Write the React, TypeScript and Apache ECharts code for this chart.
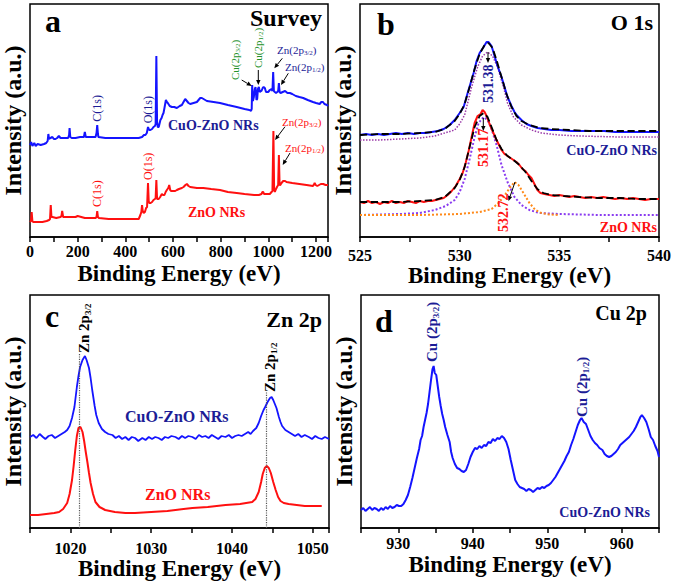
import { useEffect, useRef } from "react";
import * as echarts from "echarts";

const FONT = "'Liberation Serif', 'Times New Roman', serif";
const BLUE = "#1414ff";
const RED = "#ff1010";
const NAVY = "#1c1c96";
const GREEN = "#23912a";

// ---------- Panel a: survey ----------
const surveyTicks = [0, 200, 400, 600, 800, 1000, 1200];
const surveyCuOZnO: [number, number][] = [
  [0, 92], [5, 95], [10, 91], [18, 94], [24, 91], [32, 93], [45, 92], [59, 93], [68, 94], [74, 96], [77, 103], [80, 98],
  [86, 99], [94, 100], [100, 98], [107, 98], [114, 99], [121, 101], [128, 99], [135, 99], [150, 99], [160, 99], [164, 102],
  [166, 109], [169, 100], [175, 99], [191, 99], [210, 100], [226, 100], [230, 105], [234, 100], [255, 100], [275, 100],
  [279, 104], [282, 112], [285, 103], [287, 100], [316, 99], [350, 99], [400, 99], [440, 99], [456, 99], [470, 100],
  [478, 102], [484, 102], [490, 104], [495, 110], [500, 107], [505, 107], [512, 108], [518, 110], [524, 111], [527, 113],
  [530, 181], [533, 115], [536, 110], [540, 110], [547, 117], [552, 119], [556, 122], [560, 124], [564, 129], [570, 137],
  [574, 135], [578, 134], [586, 131], [595, 130], [605, 130], [616, 129], [628, 131], [637, 132], [644, 135], [651, 138],
  [658, 136], [665, 134], [672, 133], [686, 134], [700, 135], [714, 139], [721, 139], [728, 138], [742, 136], [770, 135],
  [797, 134], [830, 132], [867, 130], [900, 128], [920, 127], [927, 126], [930, 128], [932, 152], [935, 136], [939, 140],
  [943, 148], [946, 150], [948, 144], [950, 137], [953, 138], [956, 148], [960, 150], [964, 145], [968, 146], [971, 146],
  [976, 149], [980, 150], [985, 149], [990, 145], [999, 145], [1006, 147], [1013, 148], [1017, 146], [1020, 165],
  [1023, 146], [1027, 145], [1032, 144], [1037, 145], [1041, 146], [1044, 154], [1047, 145], [1051, 144], [1060, 145],
  [1070, 146], [1080, 144], [1090, 144], [1100, 143], [1115, 141], [1130, 140], [1146, 139], [1165, 137], [1187, 135],
  [1200, 134], [1215, 133], [1222, 135], [1229, 135], [1235, 133], [1246, 132], [1250, 131],
];
const surveyZnO: [number, number][] = [
  [0, 15], [4, 16], [7, 25], [10, 16], [13, 15], [30, 15], [52, 15], [70, 16], [80, 17], [84, 18], [87, 32], [90, 20],
  [94, 20], [110, 19], [128, 20], [132, 21], [135, 26], [139, 20], [150, 20], [175, 20], [191, 20], [200, 21], [230, 19],
  [275, 19], [279, 20], [282, 26], [285, 20], [289, 19], [330, 18], [372, 18], [420, 18], [456, 18], [463, 22], [467, 25],
  [470, 32], [473, 26], [477, 24], [482, 25], [487, 29], [491, 30], [495, 54], [498, 36], [500, 34], [506, 34], [512, 35],
  [518, 37], [524, 38], [527, 39], [530, 57], [533, 38], [540, 38], [546, 40], [553, 43], [558, 42], [564, 42], [569, 45],
  [574, 47], [580, 49], [584, 52], [588, 47], [592, 46], [600, 46], [609, 46], [616, 47], [625, 48], [637, 49], [644, 50],
  [652, 52], [658, 53], [665, 51], [672, 50], [700, 49], [727, 49], [760, 48], [797, 47], [830, 45], [867, 44], [900, 43],
  [940, 42], [960, 42], [971, 43], [975, 45], [978, 45], [982, 43], [995, 43], [1006, 43], [1013, 45], [1017, 46],
  [1021, 106], [1024, 48], [1027, 45], [1032, 48], [1036, 50], [1041, 52], [1044, 82], [1047, 52], [1050, 52], [1055, 54],
  [1062, 56], [1070, 56], [1076, 55], [1100, 54], [1130, 53], [1160, 52], [1187, 51], [1192, 53], [1194, 54], [1198, 52],
  [1205, 51], [1220, 53], [1230, 53], [1240, 52], [1250, 52],
];

// ---------- Panel b: O 1s ----------
const o1sTicks = [525, 530, 535, 540];
const o1sCuOZnO: [number, number][] = [
  [525.0, 102], [525.3, 103], [525.6, 102], [525.9, 103], [526.2, 102], [526.5, 103], [526.8, 104], [527.1, 103],
  [527.4, 104], [527.7, 103], [528.0, 104], [528.3, 104], [528.6, 105], [528.9, 106], [529.2, 108], [529.5, 112],
  [529.75, 117], [530.0, 124], [530.2, 130], [530.4, 144], [530.55, 154], [530.7, 164], [530.85, 176], [531.0, 184],
  [531.2, 190], [531.35, 195], [531.45, 195], [531.6, 191], [531.75, 181], [531.9, 171], [532.1, 160], [532.25, 150],
  [532.4, 140], [532.6, 131], [532.75, 125], [532.9, 121], [533.1, 117], [533.35, 113], [533.6, 111], [533.9, 109],
  [534.25, 108], [534.6, 107], [535.0, 107], [535.6, 106], [536.2, 106], [536.8, 106], [537.25, 106], [537.8, 105],
  [538.4, 105], [538.9, 105], [539.4, 105], [540.0, 105],
];
const o1sCuOZnOFit: [number, number][] = [
  [525, 102], [526, 103], [527, 103], [528, 104], [528.75, 105], [529.25, 108], [529.75, 116], [530.0, 123],
  [530.25, 133], [530.5, 150], [530.75, 168], [531.0, 183], [531.25, 192], [531.45, 194], [531.65, 189], [531.85, 177],
  [532.1, 160], [532.35, 143], [532.6, 130], [532.85, 121], [533.1, 116], [533.5, 112], [534, 109], [534.6, 108],
  [535.5, 107], [536.5, 106], [538, 106], [539, 106], [540, 106],
];
const o1sCuOZnOPeak: [number, number][] = [
  [525, 97], [526, 97], [527, 98], [528, 99], [528.75, 101], [529.25, 104], [529.75, 107], [530.0, 113], [530.25, 122],
  [530.4, 134], [530.6, 150], [530.9, 170], [531.15, 181], [531.4, 185], [531.65, 181], [531.9, 170], [532.2, 150],
  [532.4, 134], [532.7, 120], [533.1, 112], [533.6, 107], [534.1, 104], [535, 102], [536, 101], [538, 100], [540, 100],
];
const o1sZnO: [number, number][] = [
  [525.0, 35], [525.2, 34], [525.4, 36], [525.6, 34], [525.8, 35], [526.0, 33], [526.2, 35], [526.4, 34], [526.6, 36],
  [526.8, 34], [527.0, 35], [527.2, 34], [527.4, 36], [527.6, 35], [527.8, 34], [528.0, 36], [528.2, 35], [528.4, 36],
  [528.6, 36], [528.8, 37], [529.0, 38], [529.2, 39], [529.4, 42], [529.6, 46], [529.8, 51], [530.0, 58], [530.15, 64],
  [530.3, 74], [530.45, 86], [530.6, 100], [530.75, 114], [530.9, 121], [531.05, 123], [531.15, 127], [531.25, 125],
  [531.35, 121], [531.5, 113], [531.65, 106], [531.8, 99], [531.95, 93], [532.1, 87], [532.25, 83], [532.4, 81],
  [532.55, 79], [532.7, 77], [532.85, 75], [533.0, 72], [533.15, 68], [533.3, 66], [533.45, 62], [533.6, 59],
  [533.75, 53], [533.9, 47], [534.05, 44], [534.25, 43], [534.5, 42], [534.75, 41], [535.0, 42], [535.25, 41],
  [535.5, 40], [535.75, 41], [536.0, 40], [536.3, 39], [536.6, 40], [536.9, 39], [537.2, 40], [537.5, 39], [537.8, 38],
  [538.1, 39], [538.4, 38], [538.7, 39], [539.0, 38], [539.3, 37], [539.6, 38], [540.0, 38],
];
const o1sZnOFit: [number, number][] = [
  [525, 35], [526, 35], [527, 35], [528, 36], [528.75, 37], [529.25, 40], [529.75, 49], [530.0, 57], [530.25, 70],
  [530.5, 90], [530.75, 110], [531.0, 121], [531.2, 124], [531.4, 120], [531.6, 110], [531.85, 97], [532.1, 88],
  [532.4, 81], [532.7, 77], [533.0, 72], [533.3, 65], [533.6, 56], [533.9, 48], [534.2, 44], [534.6, 42], [535.2, 41],
  [536, 40], [537, 39], [538, 39], [539, 38], [540, 38],
];
const o1sZnOPeakLattice: [number, number][] = [
  [525, 22], [527, 23], [528, 24], [528.75, 27], [529.3, 31], [529.75, 37], [530.0, 45], [530.25, 58], [530.5, 78],
  [530.75, 100], [530.95, 114], [531.2, 120], [531.4, 117], [531.6, 108], [531.85, 92], [532.1, 72], [532.4, 55],
  [532.75, 40], [533.1, 32], [533.5, 27], [534, 24], [535, 23], [537, 22], [540, 22],
];
const o1sZnOPeakDefect: [number, number][] = [
  [525, 22], [528, 22], [530, 23], [531, 25], [531.6, 28], [532.0, 35], [532.3, 43], [532.55, 50], [532.75, 55],
  [532.95, 52], [533.2, 44], [533.5, 34], [533.8, 27], [534.1, 24], [534.5, 22.5], [535, 22],
];

// ---------- Panel c: Zn 2p ----------
const zn2pTicks = [1020, 1030, 1040, 1050];
const zn2pPeaks = [1021.15, 1044.2];
const zn2pCuOZnO: [number, number][] = [
  [1015.0, 91], [1015.4, 93], [1015.8, 90], [1016.2, 94], [1016.6, 91], [1016.9, 89], [1017.3, 92], [1017.7, 93],
  [1018.1, 90], [1018.5, 92], [1018.9, 94], [1019.3, 96], [1019.6, 98], [1019.9, 102], [1020.2, 110], [1020.5, 121],
  [1020.8, 141], [1021.0, 152], [1021.2, 161], [1021.5, 168], [1021.8, 172], [1022.0, 168], [1022.3, 160], [1022.5, 150],
  [1022.7, 138], [1023.0, 122], [1023.2, 113], [1023.5, 105], [1023.9, 99], [1024.3, 96], [1024.7, 94], [1025.2, 93],
  [1025.6, 90], [1026.0, 92], [1026.4, 89], [1026.8, 91], [1027.2, 88], [1027.6, 91], [1028.0, 90], [1028.4, 87],
  [1028.9, 90], [1029.3, 88], [1029.7, 91], [1030.1, 89], [1030.5, 91], [1030.9, 90], [1031.3, 88], [1031.7, 91],
  [1032.1, 90], [1032.5, 92], [1033.0, 91], [1033.4, 89], [1033.8, 92], [1034.2, 90], [1034.6, 92], [1035.1, 91],
  [1035.5, 89], [1035.9, 93], [1036.3, 91], [1036.7, 92], [1037.1, 90], [1037.5, 93], [1037.9, 91], [1038.3, 89],
  [1038.7, 92], [1039.2, 91], [1039.6, 93], [1040.0, 90], [1040.4, 92], [1040.8, 93], [1041.2, 92], [1041.6, 94],
  [1042.0, 96], [1042.3, 94], [1042.6, 97], [1043.0, 100], [1043.3, 105], [1043.6, 112], [1043.9, 118], [1044.1, 121],
  [1044.4, 126], [1044.7, 130], [1044.9, 131], [1045.1, 128], [1045.3, 124], [1045.5, 120], [1045.8, 111], [1046.0, 106],
  [1046.2, 102], [1046.6, 98], [1047.0, 96], [1047.4, 94], [1047.8, 92], [1048.2, 94], [1048.6, 91], [1049.0, 93],
  [1049.5, 91], [1049.9, 89], [1050.3, 92], [1050.7, 90], [1051.1, 89], [1051.5, 91], [1052.0, 89],
];
const zn2pZnO: [number, number][] = [
  [1015.0, 13], [1016, 13], [1017, 14], [1018, 15], [1018.6, 16], [1019.1, 19], [1019.6, 25], [1019.9, 34], [1020.2, 48],
  [1020.4, 62], [1020.6, 78], [1020.8, 92], [1021.0, 100], [1021.25, 101], [1021.5, 96], [1021.7, 87], [1021.9, 76],
  [1022.1, 66], [1022.3, 55], [1022.5, 45], [1022.8, 34], [1023.1, 26], [1023.6, 21], [1024.3, 18], [1025.5, 16],
  [1026.8, 15], [1028, 15], [1030, 16], [1032, 17], [1034, 19], [1035.1, 20], [1037, 21], [1039.2, 23], [1041, 24],
  [1042.5, 26], [1042.9, 29], [1043.3, 36], [1043.6, 46], [1043.8, 54], [1044.05, 60], [1044.3, 62], [1044.55, 60],
  [1044.8, 55], [1045.1, 46], [1045.4, 38], [1045.7, 31], [1046.0, 27], [1046.4, 25], [1047.0, 24], [1048, 23],
  [1049, 22], [1050, 22], [1051.1, 22],
];

// ---------- Panel d: Cu 2p ----------
const cu2pTicks = [930, 940, 950, 960];
const cu2pCuOZnO: [number, number][] = [
  [925.0, 18], [925.3, 20], [925.6, 17], [925.9, 19], [926.2, 21], [926.5, 18], [926.8, 20], [927.1, 19], [927.4, 17],
  [927.7, 20], [928.0, 18], [928.3, 21], [928.6, 19], [928.9, 22], [929.2, 20], [929.5, 21], [929.8, 23], [930.1, 22],
  [930.4, 22], [930.7, 24], [931.0, 28], [931.3, 33], [931.6, 41], [931.9, 50], [932.2, 60], [932.5, 70], [932.8, 79],
  [933.0, 88], [933.2, 92], [933.4, 101], [933.6, 108], [933.8, 115], [934.0, 124], [934.2, 136], [934.4, 148],
  [934.6, 159], [934.75, 162], [934.9, 155], [935.1, 153], [935.3, 142], [935.5, 131], [935.7, 122], [935.9, 114],
  [936.1, 108], [936.3, 101], [936.6, 93], [936.9, 86], [937.1, 76], [937.3, 70], [937.6, 64], [937.9, 60], [938.2, 59],
  [938.5, 57], [938.8, 56], [939.1, 58], [939.4, 64], [939.7, 71], [940.0, 76], [940.3, 80], [940.6, 79], [940.9, 82],
  [941.2, 80], [941.5, 83], [941.8, 82], [942.1, 86], [942.4, 85], [942.7, 89], [943.0, 87], [943.3, 90], [943.6, 89],
  [943.9, 92], [944.2, 90], [944.5, 86], [944.8, 79], [945.1, 68], [945.4, 58], [945.7, 48], [946.0, 44], [946.3, 41],
  [946.6, 40], [946.9, 39], [947.2, 37], [947.5, 39], [947.8, 38], [948.1, 36], [948.4, 38], [948.7, 40], [949.0, 39],
  [949.3, 41], [949.6, 40], [949.9, 42], [950.2, 43], [950.5, 45], [950.8, 48], [951.1, 51], [951.4, 55], [951.7, 59],
  [952.0, 63], [952.3, 67], [952.6, 72], [952.9, 76], [953.2, 83], [953.5, 89], [953.8, 96], [954.1, 103], [954.4, 108],
  [954.6, 110], [954.9, 106], [955.2, 104], [955.5, 98], [955.8, 92], [956.1, 88], [956.4, 85], [956.7, 83], [957.0, 80],
  [957.4, 78], [957.7, 74], [958.0, 72], [958.3, 71], [958.6, 72], [958.9, 74], [959.2, 76], [959.5, 79], [959.8, 83],
  [960.1, 85], [960.4, 87], [960.7, 89], [961.0, 91], [961.3, 94], [961.6, 97], [961.9, 101], [962.2, 106], [962.5, 111],
  [962.7, 113], [963.0, 110], [963.3, 106], [963.6, 99], [963.9, 91], [964.2, 88], [964.5, 82], [964.8, 77], [965.0, 71],
];

// ---------- helpers ----------
const grids = [
  { left: 29, top: 4, width: 299, height: 233 },
  { left: 360, top: 4, width: 299, height: 233 },
  { left: 29, top: 295, width: 300, height: 233 },
  { left: 361, top: 295, width: 298, height: 233 },
];

function xAxis(i: number, min: number, max: number, interval: number, labels: number[], margin: number, nameGap: number) {
  return {
    type: "value", gridIndex: i, min, max, interval,
    axisLine: { show: true, lineStyle: { color: "#000", width: 1.5 } },
    axisTick: { show: true, inside: false, length: 5, lineStyle: { color: "#000", width: 1.5 } },
    splitLine: { show: false },
    axisLabel: {
      margin, color: "#000", fontFamily: FONT, fontSize: 16, fontWeight: "bold",
      formatter: (v: number) => (labels.some((l) => Math.abs(l - v) < 1e-6) ? String(Math.round(v)) : ""),
    },
    name: "Binding Energy (eV)", nameLocation: "middle", nameGap,
    nameTextStyle: { color: "#000", fontFamily: FONT, fontSize: 23, fontWeight: "bold" },
  };
}
function yAxis(i: number) {
  return {
    type: "value", gridIndex: i, min: 0, max: 233,
    axisLine: { show: false }, axisTick: { show: false }, axisLabel: { show: false }, splitLine: { show: false },
    name: "Intensity (a.u.)", nameLocation: "middle", nameGap: 5, nameRotate: 90,
    nameTextStyle: { color: "#000", fontFamily: FONT, fontSize: 24, fontWeight: "bold" },
  };
}
function line(i: number, data: [number, number][], color: string, width: number, type: string = "solid", extra: any = {}) {
  return {
    type: "line", xAxisIndex: i, yAxisIndex: i, data, symbol: "none", showSymbol: false, silent: true,
    lineStyle: { color, width, type }, ...extra,
  };
}
function txt(x: number, y: number, text: string, size: number, color: string, align = "left", weight = "bold", rotation = 0) {
  return {
    type: "text", x, y, rotation, silent: true, z: 100,
    style: { text, fill: color, fontFamily: FONT, fontSize: size, fontWeight: weight, align, verticalAlign: "middle" },
  };
}
function subTxt(x: number, y: number, pre: string, sub: string, post: string, size: number, color: string,
  align = "left", weight = "normal", rotation = 0) {
  const ss = Math.round(size * 0.62);
  return {
    type: "text", x, y, rotation, silent: true, z: 100,
    style: {
      text: `{m|${pre}}{s|${sub}}{m|${post}}`, align, verticalAlign: "middle",
      rich: {
        m: { fill: color, fontFamily: FONT, fontSize: size, fontWeight: weight, lineHeight: size + 2 },
        s: { fill: color, fontFamily: FONT, fontSize: ss, fontWeight: weight, lineHeight: ss - 1, verticalAlign: "bottom" },
      },
    },
  };
}
function arrow(x1: number, y1: number, x2: number, y2: number, color = "#000") {
  const a = Math.atan2(y2 - y1, x2 - x1);
  const L = 5, W = 2.2;
  const bx = x2 - L * Math.cos(a), by = y2 - L * Math.sin(a);
  return [
    { type: "line", silent: true, z: 100, shape: { x1, y1, x2: bx, y2: by }, style: { stroke: color, lineWidth: 1 } },
    {
      type: "polygon", silent: true, z: 100,
      shape: { points: [[x2, y2], [bx + W * Math.sin(a), by - W * Math.cos(a)], [bx - W * Math.sin(a), by + W * Math.cos(a)]] },
      style: { fill: color },
    },
  ];
}

export default function App() {
  const ref = useRef<HTMLDivElement>(null);
  useEffect(() => {
    if (!ref.current) return;
    const chart = echarts.init(ref.current, undefined, { renderer: "svg" });
    const R = Math.PI / 2;
    const graphic: any[] = [
      // panel letters and titles
      txt(45, 21, "a", 32, "#000"),
      txt(377, 24, "b", 32, "#000"),
      txt(45, 316, "c", 32, "#000"),
      txt(375, 321, "d", 32, "#000"),
      txt(322, 18, "Survey", 24, "#000", "right"),
      txt(653, 22.6, "O 1s", 22, "#000", "right"),
      txt(322, 319, "Zn 2p", 22, "#000", "right"),
      txt(647, 313, "Cu 2p", 20, "#000", "right"),
      // panel a labels
      txt(168, 125, "CuO-ZnO NRs", 14, NAVY),
      txt(188, 212, "ZnO NRs", 14, RED),
      txt(96.7, 121.7, "C(1s)", 12, NAVY, "left", "normal", R),
      txt(148.3, 123.3, "O(1s)", 12, NAVY, "left", "normal", R),
      txt(96.7, 207, "C(1s)", 12, RED, "left", "normal", R),
      txt(148.3, 180, "O(1s)", 12, RED, "left", "normal", R),
      subTxt(235, 80, "Cu(2p", "3/2", ")", 11, GREEN, "left", "normal", R),
      subTxt(258.3, 68, "Cu(2p", "1/2", ")", 11, GREEN, "left", "normal", R),
      subTxt(277, 50, "Zn(2p", "3/2", ")", 11, NAVY),
      subTxt(285, 67, "Zn(2p", "1/2", ")", 11, NAVY),
      subTxt(282, 122, "Zn(2p", "3/2", ")", 11, RED),
      subTxt(285, 148, "Zn(2p", "1/2", ")", 11, RED),
      ...arrow(241.7, 80, 251.7, 86),
      ...arrow(258.3, 70, 258.3, 85),
      ...arrow(282.3, 58.3, 274.3, 68.3),
      ...arrow(288.3, 73.3, 281, 85),
      ...arrow(285, 126.7, 275, 140),
      ...arrow(290, 153, 282.7, 165),
      // panel b labels
      txt(657, 150, "CuO-ZnO NRs", 14, NAVY, "right"),
      txt(657, 227, "ZnO NRs", 14, RED, "right"),
      txt(488, 103, "531.38", 14, NAVY, "left", "bold", R),
      txt(483.3, 167, "531.17", 14, RED, "left", "bold", R),
      txt(503.3, 232, "532.72", 14, RED, "left", "bold", R),
      ...arrow(488, 52, 488, 63),
      ...arrow(483.3, 118, 483.3, 131),
      ...arrow(515, 182, 508.5, 201),
      // panel c labels
      txt(125, 416.6, "CuO-ZnO NRs", 16, NAVY),
      txt(145, 494.6, "ZnO NRs", 16, RED),
      subTxt(84, 353, "Zn 2p", "3/2", "", 15, "#000", "left", "bold", R),
      subTxt(270, 392, "Zn 2p", "1/2", "", 15, "#000", "left", "bold", R),
      // panel d labels
      txt(650, 512, "CuO-ZnO NRs", 14, NAVY, "right"),
      subTxt(431.7, 362, "Cu (2p", "3/2", ")", 15, NAVY, "left", "bold", R),
      subTxt(582, 417, "Cu (2p", "1/2", ")", 15, NAVY, "left", "bold", R),
    ];

    chart.setOption({
      animation: false,
      backgroundColor: "#fff",
      grid: grids.map((g) => ({ ...g, show: true, borderColor: "#000", borderWidth: 1.5, backgroundColor: "transparent" })),
      xAxis: [
        xAxis(0, 0, 1250, 100, surveyTicks, 6, 25),
        xAxis(1, 525, 540, 2.5, o1sTicks, 10, 25),
        xAxis(2, 1015, 1052, 5, zn2pTicks, 12, 27),
        xAxis(3, 925, 965, 5, cu2pTicks, 7, 25),
      ],
      yAxis: [yAxis(0), yAxis(1), yAxis(2), yAxis(3)],
      series: [
        line(0, surveyCuOZnO, BLUE, 2),
        line(0, surveyZnO, RED, 2),
        line(1, o1sCuOZnOPeak, "#9a3aa8", 1.5, "dotted"),
        line(1, o1sZnOPeakLattice, "#8a3cf0", 2, "dotted"),
        line(1, o1sZnOPeakDefect, "#ff8a1a", 2, "dotted"),
        line(1, o1sCuOZnO, BLUE, 2),
        line(1, o1sZnO, RED, 2),
        line(1, o1sCuOZnOFit, "#000", 1.8, "dashed"),
        line(1, o1sZnOFit, "#000", 1.8, "dashed"),
        line(2, zn2pCuOZnO, BLUE, 1.8),
        line(2, zn2pZnO, RED, 2, "solid", {
          markLine: {
            silent: true, symbol: ["none", "none"], label: { show: false },
            lineStyle: { color: "#555", type: "dotted", width: 1.2 },
            data: [
              [{ coord: [zn2pPeaks[0], 0] }, { coord: [zn2pPeaks[0], 175] }],
              [{ coord: [zn2pPeaks[1], 0] }, { coord: [zn2pPeaks[1], 136] }],
            ],
          },
        }),
        line(3, cu2pCuOZnO, BLUE, 2),
      ],
      graphic,
    });
    return () => chart.dispose();
  }, []);
  return <div ref={ref} style={{ position: "absolute", left: 0, top: 0, width: 675, height: 581 }} />;
}
